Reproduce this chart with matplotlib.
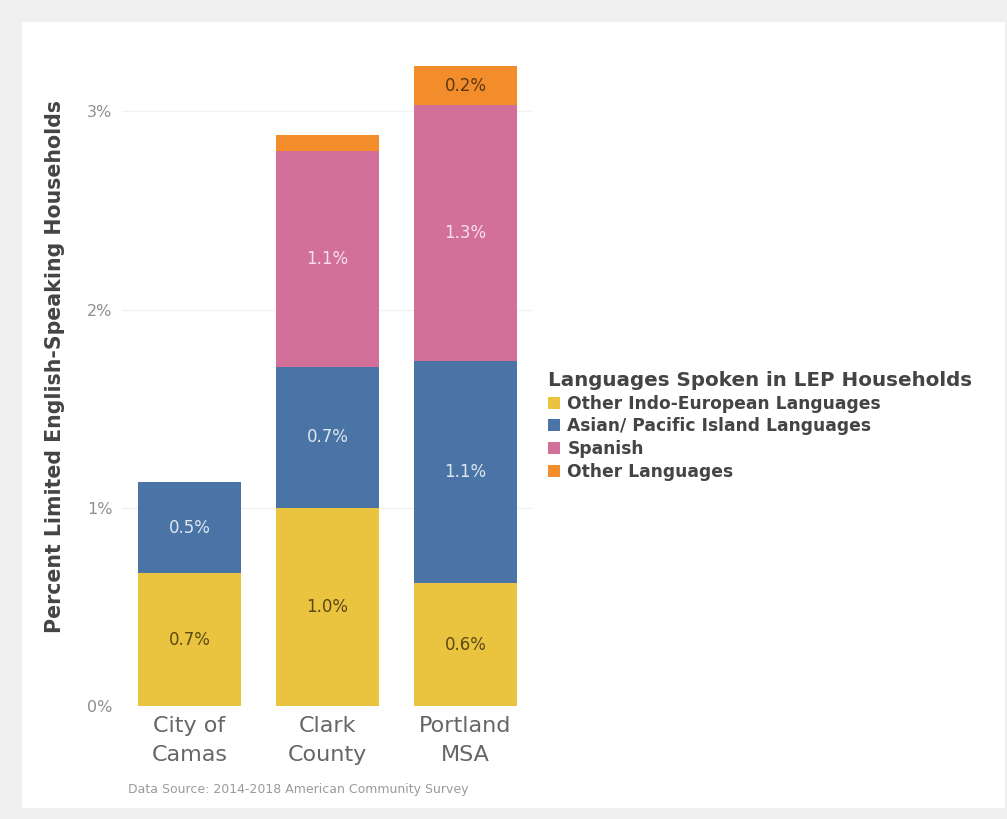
import matplotlib
matplotlib.use('Agg')
import matplotlib.pyplot as plt
from matplotlib.patches import Rectangle
import numpy as np

plt.rcParams['font.family'] = ['DejaVu Sans']

# data
places = ['City of\nCamas', 'Clark\nCounty', 'Portland\nMSA']
series_names = ['Other Indo-European Languages', 'Asian/ Pacific Island Languages',
                'Spanish', 'Other Languages']
indo_euro = [0.67, 1.00, 0.62]
asian_pi = [0.46, 0.71, 1.12]
spanish = [0.0, 1.09, 1.29]
other = [0.0, 0.08, 0.20]
yticks = [0, 1, 2, 3]

COLORS = ['#EAC43E', '#4A74A6', '#D3709A', '#F38D2B']
LABEL_COLORS = ['#5a4816', '#dfe7f1', '#f6e0ea', '#5a3812']
GRAY_BG = '#f0f0f0'

fig = plt.figure(figsize=(10.07, 8.19), dpi=100)
fig.patch.set_facecolor(GRAY_BG)
W, H = 1007, 819
fig.patches.append(Rectangle((22 / W, 11 / H), 983 / W, 786 / H, transform=fig.transFigure,
                             facecolor='white', edgecolor='none', zorder=-10))

ax = fig.add_axes([122 / W, 113 / H, 411 / W, 666 / H])
ax.set_facecolor('none')
for s in ax.spines.values():
    s.set_visible(False)

x = np.arange(len(places))
bottom = np.zeros(len(places))
for vals, name, col, lcol in zip([indo_euro, asian_pi, spanish, other], series_names, COLORS, LABEL_COLORS):
    vals = np.array(vals)
    bars = ax.bar(x, vals, width=0.75, bottom=bottom, color=col, label=name, zorder=2)
    labels = [f'{v:.1f}%' if v >= 0.15 else '' for v in vals]
    ax.bar_label(bars, labels=labels, label_type='center', color=lcol, fontsize=12)
    bottom += vals

ax.set_xlim(-0.49, 2.49)
ax.set_ylim(0, 3.36)
ax.set_yticks(yticks)
ax.set_yticklabels([f'{t}%' for t in yticks])
ax.yaxis.grid(True, color='#f2f2f2', linewidth=1, zorder=0)
ax.tick_params(axis='y', length=0, labelsize=11.5, labelcolor='#8f8f8f', pad=7)
ax.set_xticks(x)
ax.set_xticklabels(places, linespacing=1.6)
ax.tick_params(axis='x', length=0, labelsize=16, labelcolor='#666666', pad=7)
ax.set_ylabel('Percent Limited English-Speaking Households', fontsize=14.8, color='#444444',
              fontweight='semibold')
ax.yaxis.set_label_coords(-0.138, 0.51)

leg = ax.legend(loc='upper left', bbox_to_anchor=(541 / W, 1 - 364 / H), bbox_transform=fig.transFigure,
                frameon=False, title='Languages Spoken in LEP Households', alignment='left',
                fontsize=12.3, title_fontsize=14.3, handlelength=0.7, handleheight=0.7,
                handletextpad=0.45, labelspacing=0.28, borderaxespad=0)
leg.get_title().set_color('#444444')
leg.get_title().set_fontweight('semibold')
for t in leg.get_texts():
    t.set_color('#444444')
    t.set_fontweight('semibold')

fig.text(128 / W, 1 - 790 / H, 'Data Source: 2014-2018 American Community Survey',
         fontsize=9, color='#9a9a9a', va='center', ha='left')

fig.savefig('out.png', dpi=100, facecolor=fig.get_facecolor())
